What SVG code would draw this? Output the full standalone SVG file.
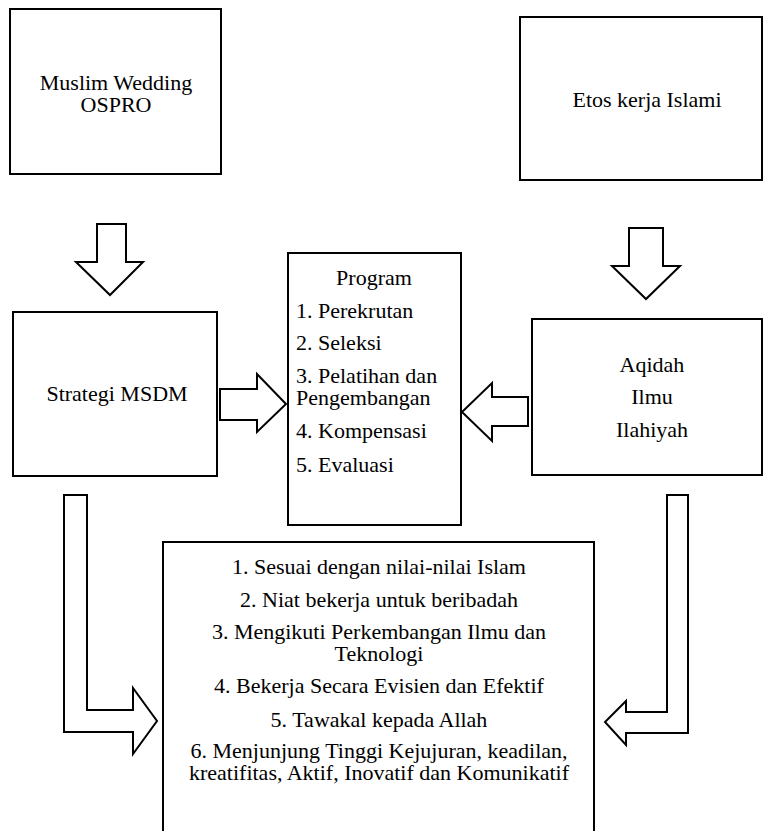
<svg xmlns="http://www.w3.org/2000/svg" width="764" height="831" viewBox="0 0 764 831" font-family="Liberation Serif, DejaVu Serif, serif" font-size="22">
<style>
.box{fill:#fff;stroke:#000;stroke-width:2}
.arr{fill:#fff;stroke:#000;stroke-width:2;stroke-linejoin:miter}
.c{text-anchor:middle}
</style>
<rect width="764" height="831" fill="#fff"/>
<g id="connectors">
<polygon class="arr" points="97,224 126,224 126,262 143,262 110,295 76,262 97,262"/>
<polygon class="arr" points="629,228 663,228 663,266 680,266 646,299 612,266 629,266"/>
<polygon class="arr" points="220,389 257,389 257,374 286,404 257,432 257,420 220,420"/>
<polygon class="arr" points="528,397 492,397 492,383 462,412 492,441 492,426 528,426"/>
<polygon class="arr" points="64,495 87,495 87,710 133,710 133,688 157,721 133,754 133,732 64,732"/>
<polygon class="arr" points="688,495 667,495 667,712 626,712 626,701 605,722 626,745 626,733 688,733"/>
</g>
<g id="muslim-wedding">
<rect class="box" x="10" y="9" width="211" height="165"/>
<text class="c" x="116" y="90" font-family="Liberation Serif, serif">Muslim Wedding</text>
<text class="c" x="116" y="112">OSPRO</text>
</g>
<g id="etos-kerja">
<rect class="box" x="520" y="17" width="242" height="163"/>
<text class="c" x="647" y="107">Etos kerja Islami</text>
</g>
<g id="strategi-msdm">
<rect class="box" x="13" y="312" width="204" height="164"/>
<text class="c" x="117" y="401">Strategi MSDM</text>
</g>
<g id="program">
<rect class="box" x="288" y="253" width="173" height="272"/>
<text class="c" x="374" y="285">Program</text>
<text x="296" y="318">1. Perekrutan</text>
<text x="296" y="350">2. Seleksi</text>
<text x="296" y="383">3. Pelatihan dan</text>
<text x="296" y="405">Pengembangan</text>
<text x="296" y="438">4. Kompensasi</text>
<text x="296" y="472">5. Evaluasi</text>
</g>
<g id="aqidah">
<rect class="box" x="532" y="319" width="230" height="156"/>
<text class="c" x="652" y="372">Aqidah</text>
<text class="c" x="652" y="404">Ilmu</text>
<text class="c" x="652" y="437">Ilahiyah</text>
</g>
<g id="nilai">
<rect class="box" x="163" y="542" width="431" height="300"/>
<text class="c" x="379" y="574">1. Sesuai dengan nilai-nilai Islam</text>
<text class="c" x="379" y="607">2. Niat bekerja untuk beribadah</text>
<text class="c" x="379" y="639">3. Mengikuti Perkembangan Ilmu dan</text>
<text class="c" x="379" y="661">Teknologi</text>
<text class="c" x="379" y="693">4. Bekerja Secara Evisien dan Efektif</text>
<text class="c" x="379" y="727">5. Tawakal kepada Allah</text>
<text class="c" x="379" y="758">6. Menjunjung Tinggi Kejujuran, keadilan,</text>
<text class="c" x="379" y="780">kreatifitas, Aktif, Inovatif dan Komunikatif</text>
</g>
</svg>
